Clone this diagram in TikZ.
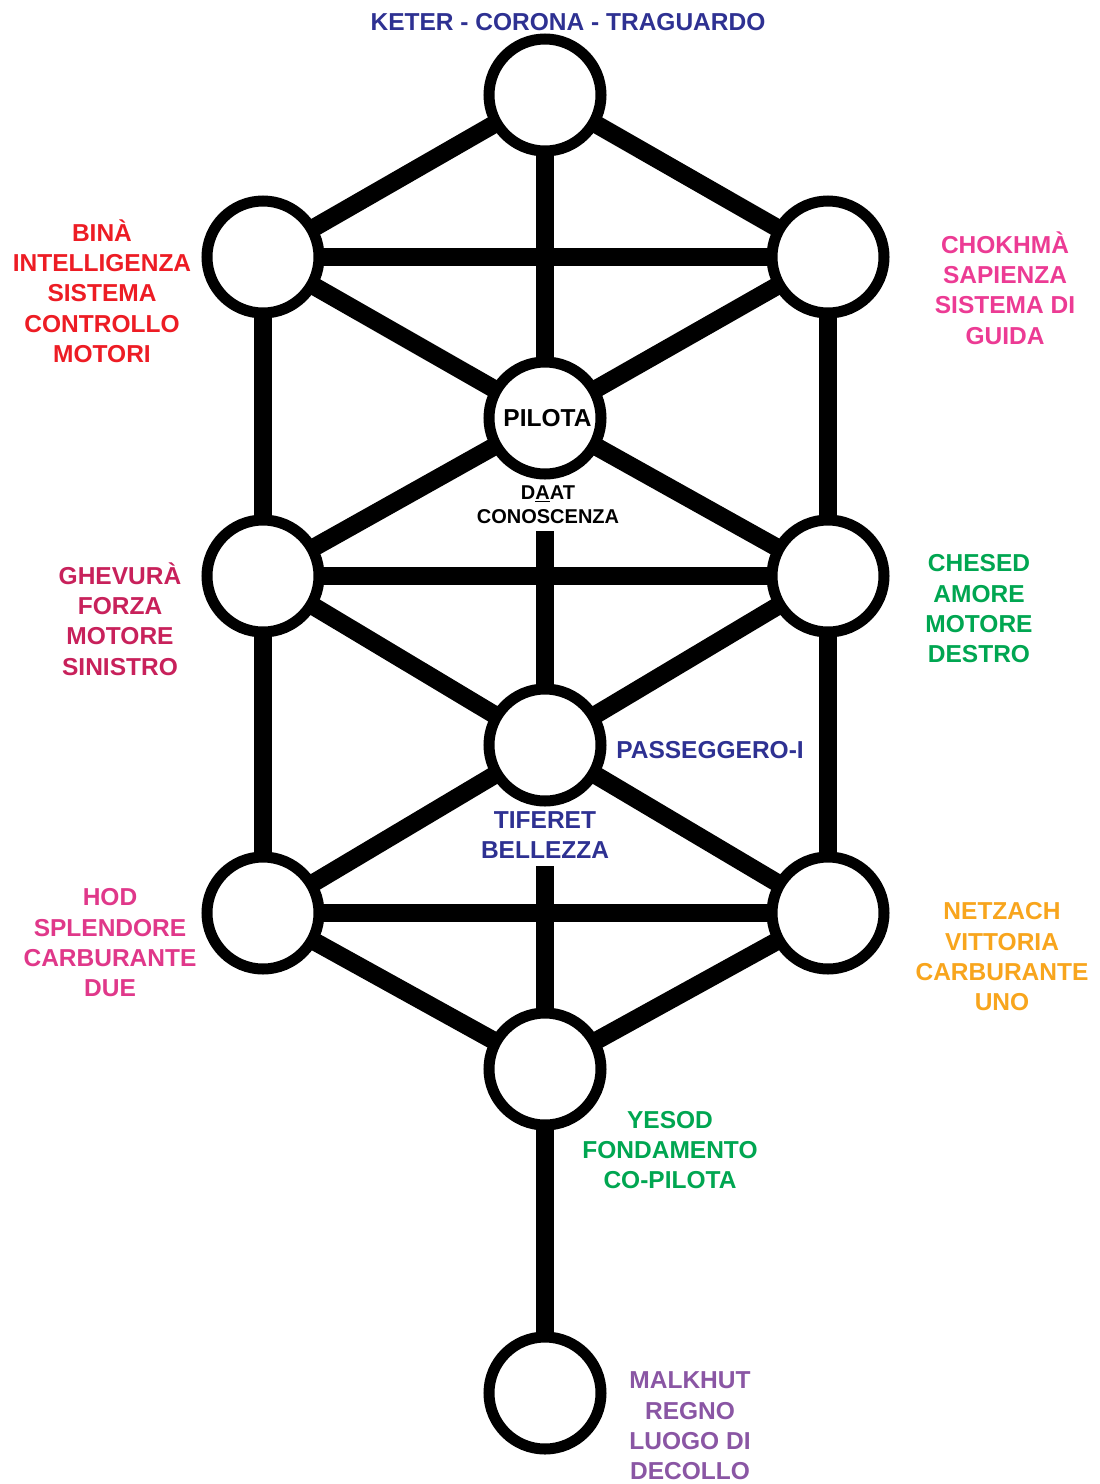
\documentclass[tikz,border=0pt]{standalone}
\usepackage{fontspec}
\setmainfont{Liberation Sans}
\definecolor{kblue}{HTML}{2E3192}
\definecolor{kred}{HTML}{ED1C24}
\definecolor{kpink}{HTML}{EC3B94}
\definecolor{kcrimson}{HTML}{C8215B}
\definecolor{khod}{HTML}{E0388A}
\definecolor{kgreen}{HTML}{00A651}
\definecolor{korange}{HTML}{F8A51D}
\definecolor{kpurple}{HTML}{8A56A4}
\pgfdeclarelayer{bg}
\pgfsetlayers{bg,main}
\begin{document}
\begin{tikzpicture}[x=1pt,y=-1pt,
  sefira/.style={circle,draw=black,fill=white,line width=11pt,minimum size=112pt,inner sep=0pt,
    font=\bfseries\fontsize{24.5}{30}\selectfont},
  conn/.style={line width=18pt,draw=black},
  lbl/.style={font=\bfseries\fontsize{24.5}{30.3}\selectfont,align=center,inner sep=0pt},
  small/.style={font=\bfseries\fontsize{20}{24}\selectfont,align=center,inner xsep=2pt,inner ysep=7pt,fill=white}
]
\useasboundingbox (0,0) rectangle (1100,1484);
\begin{pgfonlayer}{bg}
\fill[white] (0,0) rectangle (1100,1484);
\end{pgfonlayer}

% labels that mask the central pillar
\node[small] (ldaat) at (548,505) {D\underline{A}AT\\CONOSCENZA};
\node[lbl,text=kblue,fill=white,inner ysep=7pt,inner xsep=3pt] (ltiferet) at (545,835) {TIFERET\\BELLEZZA};

% sefirot
\node[sefira] (keter)   at (545,95) {};
\node[sefira] (bina)    at (263,257) {};
\node[sefira] (chokhma) at (828,257) {};
\node[sefira] (daat)    at (545,418) {\hspace*{5pt}PILOTA};
\node[sefira] (ghevura) at (263,576) {};
\node[sefira] (chesed)  at (828,576) {};
\node[sefira] (tiferet) at (545,745) {};
\node[sefira] (hod)     at (263,913) {};
\node[sefira] (netzach) at (828,913) {};
\node[sefira] (yesod)   at (545,1069) {};
\node[sefira] (malkhut) at (545,1393) {};

% paths
\begin{pgfonlayer}{bg}
\foreach \a/\b in {keter/bina,keter/chokhma,keter/daat,bina/chokhma,bina/daat,chokhma/daat,
  bina/ghevura,chokhma/chesed,daat/ghevura,daat/chesed,ghevura/chesed,daat/tiferet,
  ghevura/tiferet,chesed/tiferet,ghevura/hod,chesed/netzach,tiferet/hod,tiferet/netzach,
  hod/netzach,tiferet/yesod,hod/yesod,netzach/yesod,yesod/malkhut}
  \draw[conn] (\a.center) -- (\b.center);
\end{pgfonlayer}

% labels
\node[lbl,text=kblue] (lketer) at (568,22) {KETER - CORONA - TRAGUARDO};
\node[lbl,text=kred] (lbina) at (102,291) {BINÀ\\INTELLIGENZA\\SISTEMA\\CONTROLLO\\MOTORI};
\node[lbl,text=kpink] (lchokhma) at (1005,288) {CHOKHMÀ\\SAPIENZA\\SISTEMA DI\\GUIDA};
\node[lbl,text=kcrimson] (lghevura) at (120,619) {GHEVURÀ\\FORZA\\MOTORE\\SINISTRO};
\node[lbl,text=kgreen] (lchesed) at (979,609) {CHESED\\AMORE\\MOTORE\\DESTRO};
\node[lbl,text=kblue] (lpass) at (710,750) {PASSEGGERO-I};
\node[lbl,text=khod] (lhod) at (110,943) {HOD\\SPLENDORE\\CARBURANTE\\DUE};
\node[lbl,text=korange] (lnetzach) at (1002,957) {NETZACH\\VITTORIA\\CARBURANTE\\UNO};
\node[lbl,text=kgreen] (lyesod) at (670,1150) {YESOD\\FONDAMENTO\\CO-PILOTA};
\node[lbl,text=kpurple] (lmalkhut) at (690,1426) {MALKHUT\\REGNO\\LUOGO DI\\DECOLLO};
\end{tikzpicture}
\end{document}
